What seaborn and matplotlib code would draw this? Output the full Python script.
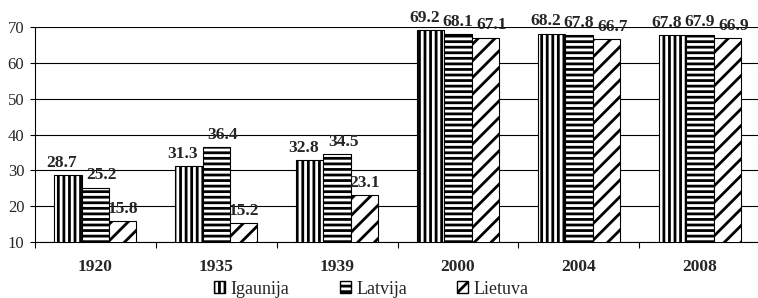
import pandas as pd
import matplotlib
matplotlib.use("Agg")
import matplotlib.pyplot as plt
import seaborn as sns
from matplotlib.patches import Patch

# Datos del gráfico
years = ['1920', '1935', '1939', '2000', '2004', '2008']
igaunija = [28.7, 31.3, 32.8, 69.2, 68.2, 67.8]
latvija = [25.2, 36.4, 34.5, 68.1, 67.8, 67.9]
lietuva = [15.8, 15.2, 23.1, 67.1, 66.7, 66.9]
countries = ['Igaunija', 'Latvija', 'Lietuva']

df = pd.DataFrame({
    'year': years * 3,
    'country': [c for c in countries for _ in years],
    'value': igaunija + latvija + lietuva,
})

sns.set_style("white")
plt.rcParams['font.family'] = ['Liberation Serif', 'DejaVu Serif']
plt.rcParams['hatch.linewidth'] = 2.0
plt.rcParams['hatch.color'] = 'black'

fig = plt.figure(figsize=(7.58, 2.98), dpi=100)
ax = fig.add_axes([0.046, 0.188, 0.957, 0.721])

sns.barplot(data=df, x='year', y='value', hue='country', order=years,
            hue_order=countries, palette=['white'] * 3, edgecolor='black',
            linewidth=0.8, width=0.68, ax=ax, legend=False, zorder=3)

hatches = ['|||', '---', '//']
for cont, h in zip(ax.containers, hatches):
    for bar in cont:
        bar.set_hatch(h)

# etiquetas: separar un poco las que quedan muy juntas
series = [igaunija, latvija, lietuva]
for si, cont in enumerate(ax.containers):
    for gi, bar in enumerate(cont):
        v = series[si][gi]
        dx = 0
        if si > 0 and abs(series[si - 1][gi] - v) < 6:
            dx += 6
        if si < 2 and abs(series[si + 1][gi] - v) < 6:
            dx -= 6
        ax.annotate(f'{v:.1f}', (bar.get_x() + bar.get_width() / 2, v),
                    xytext=(dx * 0.72, 3), textcoords='offset points',
                    ha='center', va='bottom', fontsize=12.5, fontweight='bold')

ax.set_ylim(10, 70)
ax.set_yticks(range(10, 71, 10))
ax.set_xlim(-0.5, 5.5)
ax.grid(axis='y', color='black', linewidth=0.8, zorder=0)
ax.set_axisbelow(True)
for s in ['top', 'right']:
    ax.spines[s].set_visible(False)
ax.spines['left'].set_color('black')
ax.spines['bottom'].set_color('black')
ax.spines['left'].set_linewidth(0.8)
ax.spines['bottom'].set_linewidth(0.8)

ax.set_xlabel('')
ax.set_ylabel('')
ax.set_xticks([i + 0.5 for i in range(-1, 6)], minor=True)
ax.tick_params(axis='x', which='major', length=0, pad=12, labelsize=12.5)
ax.tick_params(axis='x', which='minor', length=4, width=0.8, color='black', direction='out', bottom=True)
ax.tick_params(axis='y', length=3.6, width=0.8, color='black', direction='out', left=True, pad=4, labelsize=12)
for lab in ax.get_xticklabels():
    lab.set_fontweight('bold')

handles = [Patch(facecolor='white', edgecolor='black', hatch=h, label=c)
           for h, c in zip(hatches, countries)]
fig.legend(handles=handles, loc='center', bbox_to_anchor=(0.49, 0.03), ncol=3,
           frameon=False, handlelength=0.6, handleheight=0.6, handletextpad=0.3,
           columnspacing=2.8, fontsize=13, borderpad=0)

fig.savefig('out.png', dpi=100)
